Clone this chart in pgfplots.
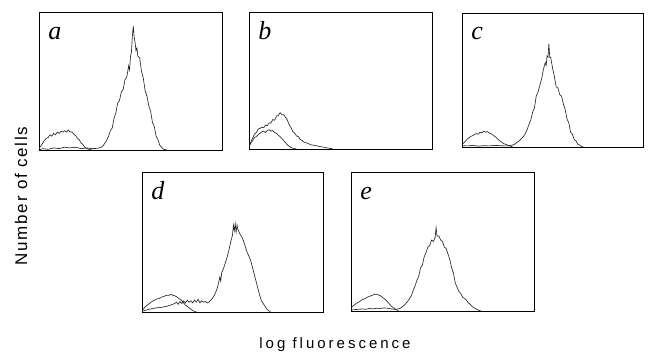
\documentclass[border=0pt]{standalone}
\usepackage{fontspec}
\setmainfont{Liberation Serif}
\newfontfamily\xlabfont[LetterSpace=20]{Liberation Sans}
\newfontfamily\ylabfont[LetterSpace=10]{Liberation Sans}
\usepackage{pgfplots}
\pgfplotsset{compat=1.18}
\pgfplotsset{
  panel/.style={scale only axis, anchor=south west, xmin=0, xmax=100, ymin=0, ymax=1,
    ticks=none, axis line style={black, line width=0.8pt}, clip=true},
  hist/.style={black!85, line width=0.65pt, no marks},
}
\newcommand{\plab}[1]{\node[anchor=base west, inner sep=0pt] at (rel axis cs:0.05,0.80) {\fontsize{26}{26}\selectfont\itshape #1};}
\begin{document}
\begin{tikzpicture}[x=1pt,y=1pt]
\useasboundingbox (0,0) rectangle (649,352);
% ---------------- a
\begin{axis}[panel, at={(39pt,202pt)}, width=183pt, height=138pt]
\addplot[hist] coordinates {(0,0.01) (1,0.03) (2,0.05) (3,0.07) (4,0.085) (5,0.09) (6,0.11) (7,0.10) (8,0.12) (9,0.11) (10,0.13) (11,0.12) (12,0.135) (13,0.13) (14,0.14) (15,0.13) (16,0.145) (17,0.13) (18,0.13) (19,0.115) (20,0.105) (21,0.085) (22,0.075) (23,0.05) (24,0.04) (25,0.02) (26,0.012) (27,0.005) (29,0)};
\addplot[hist] coordinates {(0,0) (2,0.01) (5,0.005) (8,0.015) (11,0.01) (14,0.02) (17,0.015) (20,0.02) (23,0.01) (26,0.015) (29,0.01) (32,0.012) (34,0.02) (35,0.03) (36,0.05) (37,0.07) (38,0.10) (39,0.14) (40,0.16) (41,0.23) (42,0.27) (43,0.34) (44,0.36) (45,0.42) (46,0.44) (47,0.51) (48,0.53) (49,0.61) (49.5,0.58) (50,0.68) (50.5,0.71) (51,0.82) (51.5,0.90) (52,0.82) (52.5,0.78) (53,0.72) (53.5,0.74) (54,0.68) (55,0.67) (56,0.57) (57,0.52) (58,0.43) (59,0.39) (60,0.32) (61,0.28) (62,0.20) (63,0.17) (64,0.10) (65,0.075) (66,0.035) (67,0.02) (68,0.005) (70,0)};
\plab{a}
\end{axis}
% ---------------- b
\begin{axis}[panel, at={(249pt,203pt)}, width=183pt, height=137pt]
\addplot[hist] coordinates {(0,0.02) (1,0.045) (2,0.06) (3,0.085) (4,0.09) (5,0.105) (6,0.115) (7,0.125) (8,0.13) (9,0.12) (10,0.135) (11,0.14) (12,0.13) (13,0.135) (14,0.12) (15,0.115) (16,0.10) (17,0.09) (18,0.075) (19,0.06) (20,0.045) (21,0.03) (22,0.02) (23,0.01) (24,0.005) (26,0)};
\addplot[hist] coordinates {(0,0.01) (1,0.05) (2,0.08) (3,0.11) (4,0.12) (5,0.145) (6,0.15) (7,0.16) (8,0.155) (9,0.175) (10,0.17) (11,0.19) (12,0.19) (13,0.215) (14,0.21) (15,0.24) (16,0.245) (17,0.265) (18,0.25) (19,0.25) (20,0.23) (21,0.21) (22,0.175) (23,0.155) (24,0.125) (25,0.115) (26,0.095) (27,0.09) (28,0.07) (29,0.062) (30,0.05) (32,0.042) (34,0.03) (36,0.026) (38,0.02) (40,0.015) (42,0.01) (44,0.005) (46,0)};
\plab{b}
\end{axis}
% ---------------- c
\begin{axis}[panel, at={(462pt,205pt)}, width=181pt, height=134pt]
\addplot[hist] coordinates {(0,0.02) (1,0.03) (2,0.045) (3,0.06) (4,0.07) (5,0.08) (6,0.085) (7,0.095) (8,0.10) (9,0.095) (10,0.11) (11,0.105) (12,0.118) (13,0.11) (14,0.115) (15,0.105) (16,0.10) (17,0.09) (18,0.08) (19,0.07) (20,0.055) (21,0.045) (22,0.035) (23,0.025) (24,0.02) (25,0.015) (26,0.01) (27,0.005) (28,0)};
\addplot[hist] coordinates {(0,0.01) (3,0.008) (6,0.012) (9,0.006) (12,0.01) (15,0.008) (18,0.012) (21,0.01) (24,0.008) (26,0.01) (28,0.015) (29,0.02) (30,0.03) (31,0.04) (32,0.05) (33,0.065) (34,0.08) (35,0.10) (36,0.13) (37,0.17) (38,0.20) (39,0.26) (40,0.29) (41,0.38) (42,0.41) (43,0.46) (44,0.51) (45,0.58) (46,0.63) (46.5,0.61) (47,0.68) (47.5,0.67) (48,0.77) (48.5,0.67) (49,0.67) (50,0.59) (51,0.53) (52,0.45) (53,0.44) (54,0.39) (55,0.38) (56,0.32) (57,0.28) (58,0.21) (59,0.18) (60,0.11) (61,0.095) (62,0.055) (63,0.045) (64,0.02) (65,0.014) (66,0.005) (67,0)};
\plab{c}
\end{axis}
% ---------------- d
\begin{axis}[panel, at={(142pt,40pt)}, width=181pt, height=140pt]
\addplot[hist] coordinates {(0,0.01) (1,0.025) (2,0.04) (3,0.05) (4,0.06) (5,0.07) (6,0.078) (7,0.085) (8,0.092) (9,0.095) (10,0.10) (11,0.107) (12,0.11) (13,0.117) (14,0.12) (15,0.12) (16,0.126) (17,0.12) (18,0.116) (19,0.11) (20,0.10) (21,0.09) (22,0.08) (23,0.065) (24,0.05) (25,0.04) (26,0.03) (27,0.02) (28,0.01) (29,0.005) (30,0)};
\addplot[hist] coordinates {(0,0.005) (2,0.012) (4,0.02) (6,0.025) (8,0.03) (10,0.032) (12,0.036) (14,0.042) (16,0.05) (18,0.06) (19,0.07) (20,0.055) (21,0.075) (22,0.06) (23,0.08) (24,0.065) (25,0.085) (26,0.07) (27,0.08) (28,0.065) (29,0.085) (30,0.07) (31,0.09) (32,0.065) (33,0.08) (34,0.07) (35,0.075) (36,0.065) (37,0.07) (38,0.085) (39,0.10) (40,0.12) (41,0.15) (42,0.19) (43,0.25) (43.5,0.22) (44,0.28) (45,0.31) (46,0.35) (47,0.39) (48,0.44) (49,0.50) (50,0.55) (50.5,0.62) (51,0.58) (51.5,0.63) (52,0.57) (52.5,0.62) (53,0.59) (54,0.56) (55,0.54) (56,0.51) (57,0.47) (58,0.43) (59,0.40) (60,0.37) (61,0.32) (62,0.27) (63,0.22) (64,0.17) (65,0.12) (66,0.08) (67,0.06) (68,0.04) (69,0.02) (70,0.01) (71,0)};
\plab{d}
\end{axis}
% ---------------- e
\begin{axis}[panel, at={(351pt,41pt)}, width=183pt, height=139pt]
\addplot[hist] coordinates {(0,0.02) (1,0.035) (2,0.045) (3,0.055) (4,0.062) (5,0.07) (6,0.08) (7,0.085) (8,0.092) (9,0.10) (10,0.105) (11,0.11) (12,0.115) (13,0.12) (14,0.12) (15,0.115) (16,0.11) (17,0.10) (18,0.09) (19,0.08) (20,0.065) (21,0.05) (22,0.035) (23,0.025) (24,0.015) (25,0.008) (26,0)};
\addplot[hist] coordinates {(0,0.005) (2,0.01) (4,0.012) (6,0.015) (8,0.012) (10,0.018) (12,0.015) (14,0.02) (16,0.018) (18,0.022) (20,0.02) (22,0.015) (24,0.012) (26,0.015) (27,0.02) (28,0.03) (29,0.04) (30,0.055) (31,0.07) (32,0.09) (33,0.11) (34,0.15) (35,0.18) (36,0.22) (37,0.25) (38,0.31) (39,0.33) (40,0.39) (41,0.42) (42,0.46) (43,0.47) (44,0.51) (45,0.50) (46,0.53) (46.5,0.60) (47,0.54) (48,0.54) (49,0.51) (50,0.50) (51,0.46) (52,0.45) (53,0.41) (54,0.37) (55,0.31) (56,0.27) (57,0.20) (58,0.17) (59,0.14) (60,0.125) (61,0.10) (62,0.09) (63,0.08) (64,0.06) (65,0.05) (66,0.035) (67,0.025) (68,0.018) (69,0.01) (70,0.005) (71,0)};
\plab{e}
\end{axis}
% labels
\node[rotate=90, inner sep=0pt] at (21,156) {\fontsize{17}{17}\ylabfont Number of cells};
\node[anchor=base, inner sep=0pt] at (335,3) {\fontsize{15}{15}\xlabfont log fluorescence};
\end{tikzpicture}
\end{document}
